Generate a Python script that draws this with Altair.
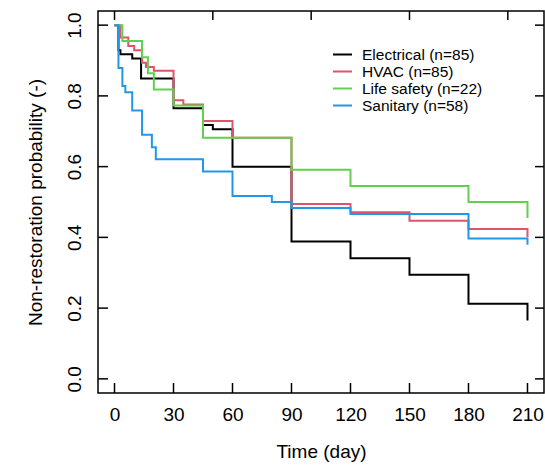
import altair as alt
import pandas as pd

series_names = ["Electrical (n=85)", "HVAC (n=85)", "Life safety (n=22)", "Sanitary (n=58)"]
series_colors = ["#000000", "#DF536B", "#61D04F", "#2297E6"]

times_elec = [0, 2, 3, 9, 13.5, 30, 45, 50, 60, 90, 120, 150, 180, 210]
surv_elec = [1.0, 0.929, 0.918, 0.906, 0.849, 0.765, 0.718, 0.706, 0.600, 0.388, 0.341, 0.294, 0.212, 0.165]

times_hvac = [0, 3, 7, 10, 14, 16, 20, 30, 35, 45, 60, 90, 120, 150, 180, 210]
surv_hvac = [1.0, 0.965, 0.941, 0.929, 0.894, 0.882, 0.871, 0.788, 0.776, 0.729, 0.682, 0.494, 0.471, 0.447, 0.424, 0.400]

times_life = [0, 4, 14, 17, 20, 30, 45, 90, 120, 180, 210]
surv_life = [1.0, 0.955, 0.909, 0.864, 0.818, 0.773, 0.682, 0.591, 0.545, 0.500, 0.455]

times_sani = [0, 2, 4, 5.5, 9, 14, 19, 21, 45, 60, 80, 90, 120, 180, 210]
surv_sani = [1.0, 0.879, 0.828, 0.810, 0.759, 0.690, 0.655, 0.621, 0.586, 0.517, 0.500, 0.483, 0.466, 0.397, 0.379]

x_ticks = [0, 30, 60, 90, 120, 150, 180, 210]
top_ticks = [0, 50, 100, 150, 200]
y_ticks = [0.0, 0.2, 0.4, 0.6, 0.8, 1.0]

rows = []
for name, ts, ss in zip(series_names,
                        [times_elec, times_hvac, times_life, times_sani],
                        [surv_elec, surv_hvac, surv_life, surv_sani]):
    for i, (t, s) in enumerate(zip(ts, ss)):
        rows.append({"series": name, "time": t, "surv": s, "ord": i})
df = pd.DataFrame(rows)

W, H = 446, 382
FONT = "Liberation Sans"
xscale = alt.Scale(domain=[-8.4, 218.4], nice=False, zero=False)
yscale = alt.Scale(domain=[-0.04, 1.04], nice=False, zero=False)

xaxis = alt.Axis(values=x_ticks, title="Time (day)", ticks=False, tickSize=0, domain=False, grid=False,
                 labelFont=FONT, labelFontSize=19, labelColor="black", labelPadding=12,
                 titleFont=FONT, titleFontSize=19, titleFontWeight="normal", titleColor="black", titlePadding=18)
yaxis = alt.Axis(values=y_ticks, format=".1f", title="Non-restoration probability (-)", ticks=False, tickSize=0,
                 domain=False, grid=False, labelAngle=270, labelAlign="center", labelBaseline="bottom",
                 labelFont=FONT, labelFontSize=19, labelColor="black", labelPadding=14,
                 titleFont=FONT, titleFontSize=19, titleFontWeight="normal", titleColor="black", titlePadding=20)

lines = alt.Chart(df).mark_line(interpolate="step-after", strokeWidth=2).encode(
    x=alt.X("time:Q", scale=xscale, axis=xaxis),
    y=alt.Y("surv:Q", scale=yscale, axis=yaxis),
    color=alt.Color("series:N", scale=alt.Scale(domain=series_names, range=series_colors),
                    sort=series_names,
                    legend=alt.Legend(orient="none", legendX=236, legendY=35, title=None,
                                      symbolType="M-1.27,0H1.27", symbolStrokeWidth=2, symbolSize=225,
                                      labelFont=FONT, labelFontSize=15.5, labelColor="black",
                                      labelOffset=11, rowPadding=0, padding=0)),
    order="ord:Q",
)

tk = dict(color="black", strokeWidth=1.5)
left_ticks = alt.Chart(pd.DataFrame({"surv": y_ticks})).mark_rule(**tk).encode(
    y=alt.Y("surv:Q", scale=yscale, axis=yaxis), x=alt.value(0), x2=alt.value(10))
right_ticks = alt.Chart(pd.DataFrame({"surv": y_ticks})).mark_rule(**tk).encode(
    y=alt.Y("surv:Q", scale=yscale, axis=yaxis), x=alt.value(W - 9), x2=alt.value(W))
bottom_ticks = alt.Chart(pd.DataFrame({"time": x_ticks})).mark_rule(**tk).encode(
    x=alt.X("time:Q", scale=xscale, axis=xaxis), y=alt.value(H), y2=alt.value(H - 10))
top_ticks_l = alt.Chart(pd.DataFrame({"time": top_ticks})).mark_rule(**tk).encode(
    x=alt.X("time:Q", scale=xscale, axis=xaxis), y=alt.value(0), y2=alt.value(9))

chart = alt.layer(lines, left_ticks, right_ticks, bottom_ticks, top_ticks_l).properties(
    width=W, height=H,
    autosize=alt.AutoSizeParams(type="none"),
    padding={"left": 98, "top": 11, "right": 1, "bottom": 74},
    background="white",
).configure_view(stroke="black", strokeWidth=1.5)

chart.save("out.html", embed_options={"renderer": "svg", "actions": False})
